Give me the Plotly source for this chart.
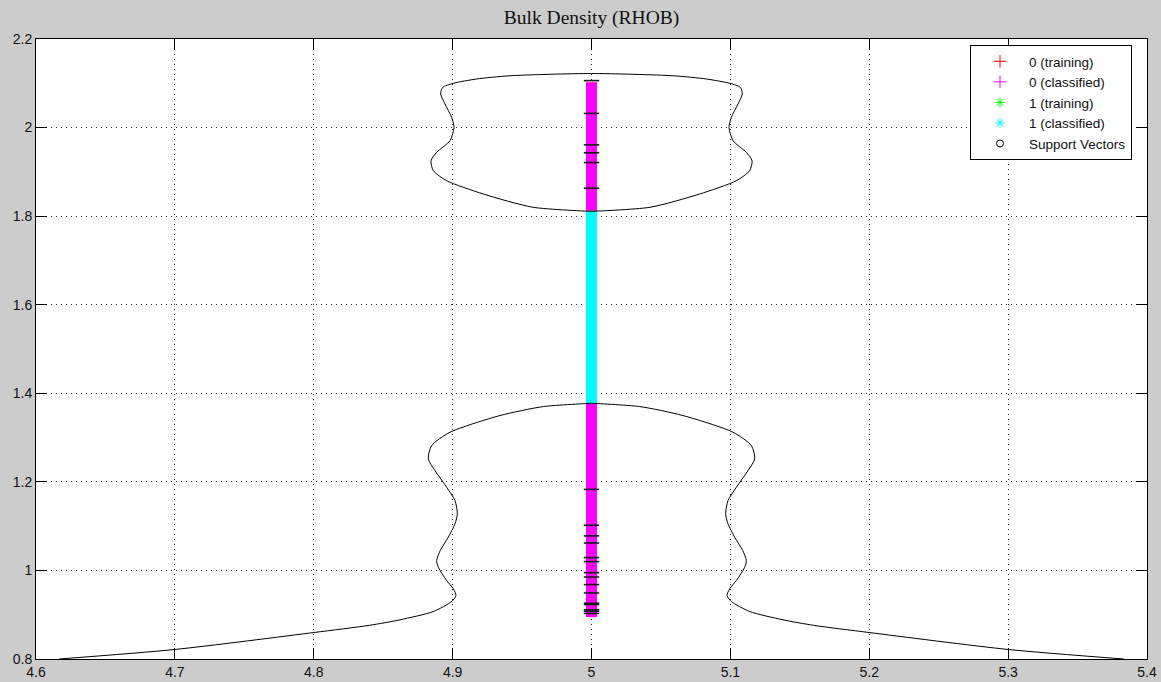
import plotly.graph_objects as go

# ---------------- data ----------------
x_tick_vals = [4.6, 4.7, 4.8, 4.9, 5.0, 5.1, 5.2, 5.3, 5.4]
x_tick_text = ["4.6", "4.7", "4.8", "4.9", "5", "5.1", "5.2", "5.3", "5.4"]
y_tick_vals = [0.8, 1.0, 1.2, 1.4, 1.6, 1.8, 2.0, 2.2]
y_tick_text = ["0.8", "1", "1.2", "1.4", "1.6", "1.8", "2", "2.2"]

feature_x = 5.0  # all samples lie on x = 5

# class ranges (start, end) of the dense sample strips along y
class0_training_ranges = [(0.895, 1.376), (1.812, 2.102)]
class0_classified_ranges = [(0.895, 1.376), (1.812, 2.102)]
class1_training_ranges = [(1.376, 1.812)]
class1_classified_ranges = [(1.376, 1.812)]

support_vectors_y = [2.106, 2.032, 1.961, 1.943, 1.921, 1.863,
                     1.183, 1.102, 1.078, 1.062, 1.029, 1.020, 0.995, 0.985,
                     0.968, 0.949, 0.926, 0.923, 0.911, 0.908, 0.903]

# decision boundary (symmetric about x = 5): y and half-width from the centre
upper_loop_y = [2.122, 2.117, 2.1097, 2.0998, 2.0907, 2.0758, 2.0533, 2.023,
                2.0004, 1.9704, 1.944, 1.9253, 1.9027, 1.8801, 1.85, 1.82, 1.8108]
upper_loop_w = [0.0, 0.0587, 0.0827, 0.0997, 0.1072, 0.1086, 0.1055, 0.1007,
                0.099, 0.1019, 0.1115, 0.1156, 0.1139, 0.1043, 0.0779, 0.042, 0.0]

lower_curve_y = [0.800, 0.8215, 0.8598, 0.876, 0.8885, 0.9072, 0.9298, 0.9433,
                 0.9585, 0.9772, 1.0072, 1.0223, 1.0449, 1.075, 1.1052, 1.1278,
                 1.1578, 1.1878, 1.2255, 1.2519, 1.2819, 1.312, 1.3497, 1.37, 1.3774]
lower_curve_w = [0.3834, 0.30, 0.20, 0.16, 0.1379, 0.1139, 0.1007, 0.0976,
                 0.0995, 0.1043, 0.1103, 0.1115, 0.1089, 0.1031, 0.0983, 0.0966,
                 0.0983, 0.1043, 0.1127, 0.1175, 0.1151, 0.1019, 0.0659, 0.0347, 0.0]


def strip_xy(ranges):
    xs, ys = [], []
    for a, b in ranges:
        xs += [feature_x, feature_x, None]
        ys += [a, b, None]
    return xs, ys


fig = go.Figure()

STRIP_W = 11
series = [
    ("0 (training)", class0_training_ranges, "#ff0000"),
    ("1 (training)", class1_training_ranges, "#00ff00"),
    ("0 (classified)", class0_classified_ranges, "#ff00ff"),
    ("1 (classified)", class1_classified_ranges, "#00ffff"),
]
for name, rng, col in series:
    xs, ys = strip_xy(rng)
    fig.add_trace(go.Scatter(x=xs, y=ys, mode="lines", line=dict(color=col, width=STRIP_W),
                             showlegend=False, hoverinfo="skip"))

# support vectors drawn on the strip
fig.add_trace(go.Scatter(x=[feature_x] * len(support_vectors_y), y=support_vectors_y,
                         mode="markers", showlegend=False,
                         marker=dict(symbol="line-ew", size=11, line=dict(color="#1a1a1a", width=1.6))))

# decision boundary curves
up_x = [feature_x - w for w in upper_loop_w] + [feature_x + w for w in upper_loop_w[::-1]]
up_y = upper_loop_y + upper_loop_y[::-1]
fig.add_trace(go.Scatter(x=up_x, y=up_y, mode="lines", showlegend=False,
                         line=dict(color="black", width=1, shape="spline", smoothing=0.7)))
lo_x = [feature_x - w for w in lower_curve_w] + [feature_x + w for w in lower_curve_w[::-1]]
lo_y = lower_curve_y + lower_curve_y[::-1]
fig.add_trace(go.Scatter(x=lo_x, y=lo_y, mode="lines", showlegend=False,
                         line=dict(color="black", width=1, shape="spline", smoothing=0.7)))

# legend entries
legend_items = [
    ("0 (training)", "#ff0000", "cross-thin-open", 9),
    ("0 (classified)", "#ff00ff", "cross-thin-open", 9),
    ("1 (training)", "#00ff00", "asterisk-open", 8),
    ("1 (classified)", "#00ffff", "asterisk-open", 8),
    ("Support Vectors", "#000000", "circle-open", 7),
]
for name, col, sym, sz in legend_items:
    fig.add_trace(go.Scatter(x=[None], y=[None], mode="markers", name=name,
                             marker=dict(symbol=sym, size=sz, color=col,
                                         line=dict(color=col, width=1))))

axis_common = dict(
    showline=True, linecolor="black", linewidth=1, mirror="allticks",
    ticks="inside", ticklen=11, tickcolor="black", tickwidth=1,
    showgrid=True, gridcolor="#222222", gridwidth=1, griddash="1px,4px",
    zeroline=False, automargin=False,
    tickfont=dict(family="Liberation Sans, Arial", size=14, color="#111111"),
)

fig.update_layout(
    width=1161, height=682,
    paper_bgcolor="#cccccc", plot_bgcolor="white",
    margin=dict(l=36, r=14, t=39, b=23),
    title=dict(text="Bulk Density (RHOB)", x=0.5, xref="paper", xanchor="center",
               y=1 - 17 / 682, yref="container", yanchor="middle",
               font=dict(family="Liberation Serif, Times New Roman", size=19.5, color="#111111")),
    xaxis=dict(range=[4.6, 5.4], tickvals=x_tick_vals, ticktext=x_tick_text, **axis_common),
    yaxis=dict(range=[0.8, 2.2], tickvals=y_tick_vals, ticktext=y_tick_text, **axis_common),
    legend=dict(x=(970 - 36) / 1111, y=(659 - 45) / 620, xanchor="left", yanchor="top",
                bgcolor="white", bordercolor="black", borderwidth=1,
                font=dict(family="Liberation Sans, Arial", size=13.5, color="#111111"),
                tracegroupgap=0, itemwidth=48),
    showlegend=True,
)

fig.write_html("out.html")
